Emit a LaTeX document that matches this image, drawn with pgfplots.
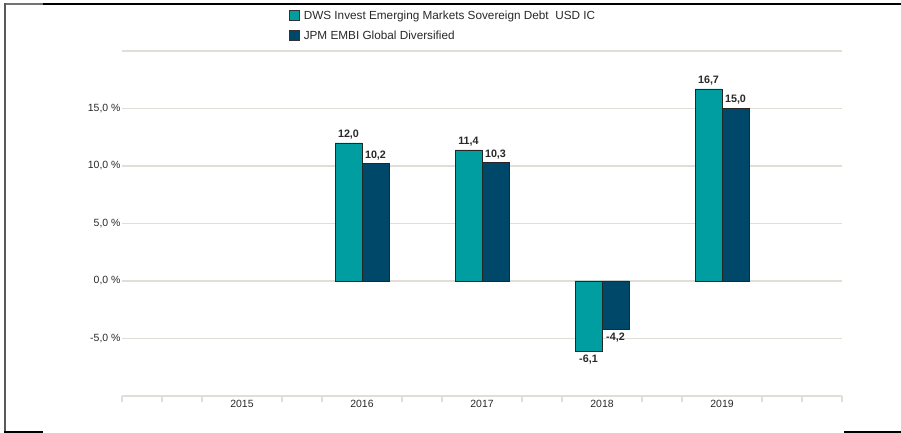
\documentclass[border=0pt]{standalone}
\usepackage{pgfplots}
\pgfplotsset{compat=1.18}
\usepackage{fontspec}
\setmainfont{Liberation Sans}
\definecolor{dwsteal}{RGB}{0,158,160}
\definecolor{jpmnavy}{RGB}{0,72,106}
\definecolor{txt}{RGB}{40,40,40}
\definecolor{gridc}{RGB}{225,222,216}
\begin{document}
\begin{tikzpicture}
% axis box lower-left corner sits at (0,0); picture pixel (122,396)
\useasboundingbox (-122bp,-37bp) rectangle (779bp,396bp);
\begin{axis}[
  scale only axis, width=720bp, height=345bp,
  xmin=-1, xmax=5, ymin=-10, ymax=20,
  ybar, bar width=0.225,
  separate axis lines,
  axis x line*=bottom, axis y line*=left,
  x axis line style={draw=gridc, line width=2.2bp, -},
  y axis line style={draw=none},
  xtick={0,1,2,3,4}, xticklabels={2015,2016,2017,2018,2019},
  minor xtick={-1,-0.6667,-0.3333,0.3333,0.6667,1.3333,1.6667,2.3333,2.6667,3.3333,3.6667,4.3333,4.6667,5},
  major tick length=0pt, minor tick length=6bp, tick align=outside,
  x tick style={draw=gridc, line width=1.2bp},
  y tick style={draw=none},
  ytick={-5,0,5,10,15},
  extra y ticks={20}, extra y tick labels={}, extra y tick style={grid=major},
  ymajorgrids, grid style={draw=gridc, line width=1.2bp},
  /pgf/number format/.cd, fixed, fixed zerofill, precision=1, use comma, assume math mode=true,
  /pgfplots/.cd,
  yticklabel={\pgfmathprintnumber{\tick} \%},
  yticklabel style={font=\fontsize{10.5}{12}\selectfont, text=txt},
  yticklabel shift=-2bp,
  xticklabel style={font=\fontsize{10.5}{12}\selectfont, text=txt, yshift=-1bp},
  nodes near coords={\pgfmathprintnumber{\pgfplotspointmeta}},
  nodes near coords style={font=\fontsize{10.8}{12}\selectfont\bfseries, text=txt, inner sep=3.5bp},
  nodes near coords align={vertical},
  legend style={at={(0.227,1.128)}, anchor=north west, draw=none, fill=none,
    font=\fontsize{11.8}{13}\selectfont, text=txt, row sep=6bp,
    /tikz/every even column/.append style={column sep=2bp}},
  legend cell align=left,
  legend image code/.code={\draw[#1, draw=black!80, line width=0.6bp] (0bp,-4.5bp) rectangle (10.5bp,6bp); \path (12.5bp,0bp);},
  clip=false,
]
\addplot[fill=dwsteal, draw=black!85, line width=0.7bp, bar shift=-0.1125] coordinates {(1,12.0) (2,11.4) (3,-6.1) (4,16.7)};
\addlegendentry{DWS Invest Emerging Markets Sovereign Debt\ \ USD IC}
\addplot[fill=jpmnavy, draw=black!85, line width=0.7bp, bar shift=0.1125] coordinates {(1,10.2) (2,10.3) (3,-4.2) (4,15.0)};
\addlegendentry{JPM EMBI Global Diversified}
\end{axis}
% frame remnants (picture px -> bp: x-122, 396-y)
\draw[line width=1.6bp, black!55] (-117.8bp,392bp) -- (-79bp,392bp);
\draw[line width=1.6bp, black] (-79bp,392bp) -- (779bp,392bp);
\draw[line width=1.6bp, black!65] (-117bp,392.8bp) -- (-117bp,-36.8bp);
\draw[line width=1.6bp, black] (-117.8bp,-36bp) -- (-79bp,-36bp);
\draw[line width=1.6bp, black] (722bp,-36bp) -- (779bp,-36bp);
\end{tikzpicture}
\end{document}
